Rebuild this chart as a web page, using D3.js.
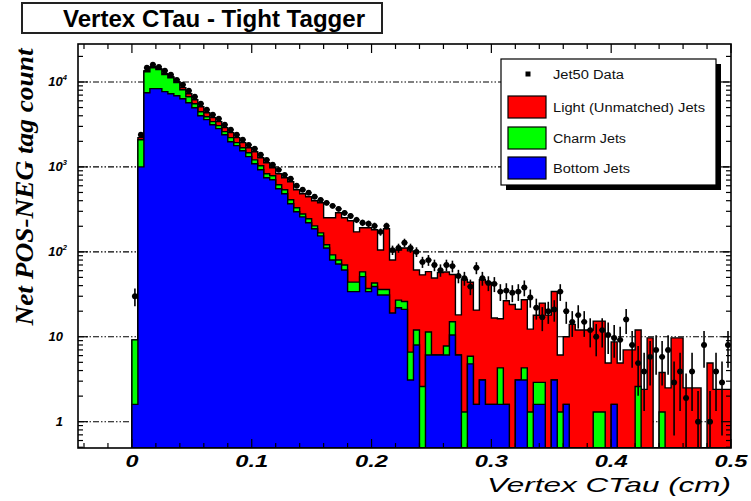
<!DOCTYPE html>
<html>
<head>
<meta charset="utf-8">
<script src="https://cdn.jsdelivr.net/npm/d3@7"></script>
<style>
    body { margin: 0; background: #fff; }
    svg { display: block; }
</style>
</head>
<body>
<svg width="751" height="501"></svg>
<script>
// histogram bins: 0.005 cm wide, starting at 0
var binLow = 0, binWidth = 0.005;

// bottom jets (blue), one value per bin
var bottomJets = [
    1.6, 1000, 7480, 8340, 8340, 7690, 7280, 6890, 6350, 5700,
    4980, 4010, 3600, 3140, 2820, 2390, 1980, 1780, 1550, 1320,
    1090, 925, 745, 705, 553, 483, 368, 296, 258, 220,
    187, 154, 111, 80, 72, 61, 34, 34, 51, 34,
    39, 31, 31, 19, 22, 21, 3.1, 8, 0, 6.1,
    6.1, 6.1, 6.1, 10.5, 6.1, 0, 4.8, 1.6, 3.1, 1.6,
    1.6, 1.6, 1.6, 0, 3.1, 3.1, 0, 1.6, 1.6, 0,
    3.1, 0, 1.6, 0, 0, 0, 0, 0, 0, 0,
    1.6, 0, 0, 0, 0, 0, 0, 0, 0, 0,
    0, 0, 0, 0, 0, 0, 0, 0, 0, 0
];

// charm jets (green)
var charmJets = [
    7.6, 1090, 5730, 6390, 5620, 4500, 3940, 2930, 1760, 1010,
    570, 460, 300, 270, 240, 210, 230, 150, 130, 150,
    120, 105, 85, 82, 63, 55, 42, 34, 21, 25,
    15, 13, 10, 12, 8, 9, 10, 10, 7, 3,
    4, 5, 5, 0, 5, 5, 3.5, 4, 2.6, 5.3,
    0, 0, 1.7, 4.5, 0, 1.3, 1.1, 0, 0, 0,
    0, 2.7, 0, 0, 0, 1.2, 1.3, 1.3, 1.3, 0,
    0, 1.3, 0, 0, 0, 0, 0, 1.3, 1.3, 0,
    0, 0, 0, 0, 2.6, 0, 0, 0, 1.3, 0,
    0, 0, 0, 0, 0, 0, 0, 0, 0, 0
];

// light (unmatched) jets (red)
var lightJets = [
    0, 120, 380, 410, 390, 340, 310, 250, 460, 570,
    630, 640, 450, 390, 350, 300, 320, 280, 250, 210,
    300, 250, 290, 190, 214, 207, 258, 208, 204, 200,
    197, 211, 131, 160, 208, 182, 188, 128, 134, 155,
    139, 69, 151, 61, 78, 85, 96, 49, 51, 47,
    43, 51, 50, 39, 12, 46, 38, 19, 44, 42,
    15, 12, 25, 24, 18, 23, 11, 15, 22, 18,
    31, 4.8, 8.4, 14, 12, 12, 12, 14, 14, 4.9,
    7.1, 4.9, 7, 7, 9.4, 2.4, 9.7, 0, 2.5, 2.5,
    9.7, 9.7, 2.5, 2.5, 2.5, 0, 4.9, 2.4, 2.4, 2.4
];

// Jet50 data points
var jet50Data = [
    30, 2390, 14700, 16000, 15100, 13600, 12200, 10600, 9300, 7900,
    6700, 5550, 4720, 4120, 3700, 3140, 2740, 2390, 2090, 1820,
    1640, 1390, 1210, 1060, 925, 807, 725, 600, 538, 496,
    445, 410, 378, 348, 321, 288, 265, 238, 220, 214,
    202, 172, 202, 105, 111, 128, 111, 100, 76, 80,
    70, 61, 70, 68, 52, 49, 39, 65, 49, 43,
    42, 34, 35, 33, 34, 38, 29, 22, 17, 20,
    21, 34, 20, 15, 18, 15, 12, 10, 12, 10.5,
    9.7, 9.2, 16, 8, 4.9, 3.9, 5.8, 7, 5.8, 7,
    2.9, 3.9, 1.9, 3.9, 1, 8, 1, 3.9, 2.9, 8
];

var xTickValues = [0, 0.1, 0.2, 0.3, 0.4, 0.5];
var xTickLabels = ["0", "0.1", "0.2", "0.3", "0.4", "0.5"];
var yDecades = [1, 10, 100, 1000, 10000];
var yDecadeExp = ["", "", "2", "3", "4"];
var yDecadeBase = ["1", "10", "10", "10", "10"];

var legendNames = ["Jet50 Data", "Light (Unmatched) Jets", "Charm Jets", "Bottom Jets"];
var legendColors = [null, "#ff0000", "#00ff00", "#0000ff"];

var svg = d3.select("svg");
var frame = { left: 78, right: 731, top: 44, bottom: 448 };
var yMin = 0.49;

var x = d3.scaleLinear().domain([-0.045, 0.5]).range([frame.left, frame.right]);
var y = d3.scaleLog().domain([yMin, 28000]).range([frame.bottom, frame.top]);

function y_clamped(v) {
    return v > 0 ? y(Math.max(v, yMin)) : frame.bottom;
}

svg.append("defs").append("clipPath").attr("id", "plot-clip")
    .append("rect")
    .attr("x", frame.left).attr("y", frame.top)
    .attr("width", frame.right - frame.left).attr("height", frame.bottom - frame.top);

// grid lines behind everything
svg.append("g").selectAll("line")
    .data(yDecades)
    .enter().append("line")
    .attr("x1", frame.left).attr("x2", frame.right)
    .attr("y1", function (d) { return y(d); })
    .attr("y2", function (d) { return y(d); })
    .attr("stroke", "#000")
    .attr("stroke-width", 1.1)
    .attr("stroke-dasharray", "6,2,1.5,2,1.5,2");

// stacked totals
var stackBlue = bottomJets.slice();
var stackGreen = bottomJets.map(function (v, i) { return v + charmJets[i]; });
var stackRed = stackGreen.map(function (v, i) { return v + lightJets[i]; });

function hist_path(vals) {
    var pts = vals.map(function (v, i) { return { x: binLow + i * binWidth, v: v }; });
    pts.push({ x: binLow + vals.length * binWidth, v: vals[vals.length - 1] });
    return d3.area()
        .x(function (d) { return x(d.x); })
        .y0(frame.bottom)
        .y1(function (d) { return y_clamped(d.v); })
        .curve(d3.curveStepAfter)(pts);
}

var plot = svg.append("g").attr("clip-path", "url(#plot-clip)");

[[stackRed, "#ff0000"], [stackGreen, "#00ff00"], [stackBlue, "#0000ff"]].forEach(function (h) {
    plot.append("path")
        .attr("d", hist_path(h[0]))
        .attr("fill", h[1])
        .attr("stroke", "#000")
        .attr("stroke-width", 1.4)
        .attr("stroke-linejoin", "miter");
});

// data points with error bars (poisson-like, as ROOT draws them)
var pts = plot.append("g");
jet50Data.forEach(function (v, i) {
    if (!(v > 0)) return;
    var lo = binLow + i * binWidth, hi = lo + binWidth, mid = lo + binWidth / 2;
    var err = 1.3 * Math.sqrt(v);
    pts.append("line")
        .attr("x1", x(lo)).attr("x2", x(hi))
        .attr("y1", y(v)).attr("y2", y(v))
        .attr("stroke", "#000").attr("stroke-width", 1.6);
    pts.append("line")
        .attr("x1", x(mid)).attr("x2", x(mid))
        .attr("y1", y(v + err)).attr("y2", y_clamped(v - err))
        .attr("stroke", "#000").attr("stroke-width", 1.6);
    pts.append("circle")
        .attr("cx", x(mid)).attr("cy", y(v)).attr("r", 2.9)
        .attr("fill", "#000");
});

// frame
svg.append("rect")
    .attr("x", frame.left).attr("y", frame.top)
    .attr("width", frame.right - frame.left).attr("height", frame.bottom - frame.top)
    .attr("fill", "none").attr("stroke", "#000").attr("stroke-width", 1.6);

// x ticks, top and bottom, pointing in
var ticks = svg.append("g").attr("stroke", "#000").attr("stroke-width", 1.2);
d3.range(-0.04, 0.5001, 0.02).forEach(function (t) {
    var major = Math.abs(Math.round(t * 10) - t * 10) < 1e-6;
    var len = major ? 9 : 5;
    ticks.append("line").attr("x1", x(t)).attr("x2", x(t))
        .attr("y1", frame.top).attr("y2", frame.top + len);
    ticks.append("line").attr("x1", x(t)).attr("x2", x(t))
        .attr("y1", frame.bottom).attr("y2", frame.bottom - len);
});

// y ticks, left and right
var yTickVals = [];
[0.1, 1, 10, 100, 1000, 10000].forEach(function (d) {
    for (var k = 1; k <= 9; k++) {
        var v = k * d;
        if (v >= yMin && v <= 28000) yTickVals.push({ v: v, major: k == 1 });
    }
});
yTickVals.forEach(function (t) {
    var len = t.major ? 10 : 5;
    ticks.append("line").attr("x1", frame.left).attr("x2", frame.left + len)
        .attr("y1", y(t.v)).attr("y2", y(t.v));
    ticks.append("line").attr("x1", frame.right).attr("x2", frame.right - len)
        .attr("y1", y(t.v)).attr("y2", y(t.v));
});

// x tick labels
svg.append("g").selectAll("text")
    .data(xTickValues)
    .enter().append("text")
    .attr("x", function (d) { return x(d); })
    .attr("y", 467)
    .attr("text-anchor", "middle")
    .attr("font-family", "Liberation Sans, Arial, sans-serif")
    .attr("font-style", "italic")
    .attr("font-weight", "bold")
    .attr("font-size", 16)
    .attr("textLength", function (d, i) { return i == 0 ? 13 : 33; })
    .attr("lengthAdjust", "spacingAndGlyphs")
    .text(function (d, i) { return xTickLabels[i]; });

// y tick labels
var yl = svg.append("g")
    .attr("font-family", "Liberation Sans, Arial, sans-serif")
    .attr("font-style", "italic")
    .attr("font-weight", "bold")
    .attr("font-size", 13);
yDecades.forEach(function (d, i) {
    var t = yl.append("text")
        .attr("x", yDecadeExp[i] ? 67 : 63)
        .attr("y", y(d) + 4)
        .attr("text-anchor", "end")
        .text(yDecadeBase[i]);
    if (yDecadeExp[i]) {
        t.append("tspan").attr("dy", -6).attr("font-size", 7.5).text(yDecadeExp[i]);
    }
});

// axis titles
svg.append("text")
    .attr("x", 487).attr("y", 492)
    .attr("font-family", "Liberation Sans, Arial, sans-serif")
    .attr("font-style", "italic")
    .attr("font-size", 21)
    .attr("textLength", 244)
    .attr("lengthAdjust", "spacingAndGlyphs")
    .text("Vertex CTau (cm)");

svg.append("text")
    .attr("transform", "translate(33,187) rotate(-90)")
    .attr("text-anchor", "middle")
    .attr("font-family", "Liberation Serif, Times New Roman, serif")
    .attr("font-style", "italic")
    .attr("font-weight", "bold")
    .attr("font-size", 25)
    .attr("textLength", 277)
    .attr("lengthAdjust", "spacingAndGlyphs")
    .text("Net POS-NEG tag count");

// title box
svg.append("rect")
    .attr("x", 22).attr("y", 3).attr("width", 360).attr("height", 30)
    .attr("fill", "#fff").attr("stroke", "#222").attr("stroke-width", 2);
svg.append("text")
    .attr("x", 63).attr("y", 27)
    .attr("font-family", "Liberation Sans, Arial, sans-serif")
    .attr("font-weight", "bold")
    .attr("font-size", 23)
    .attr("textLength", 302)
    .attr("lengthAdjust", "spacingAndGlyphs")
    .text("Vertex CTau - Tight Tagger");

// legend
var lg = { x: 501, y: 59, w: 215, h: 126 };
svg.append("rect")
    .attr("x", lg.x + 5).attr("y", lg.y + 5).attr("width", lg.w).attr("height", lg.h)
    .attr("fill", "#000");
svg.append("rect")
    .attr("x", lg.x).attr("y", lg.y).attr("width", lg.w).attr("height", lg.h)
    .attr("fill", "#fff").attr("stroke", "#000").attr("stroke-width", 1.2);

var legendRowY = [74, 107, 138, 168];
var legendTextLen = [71, 152, 73, 77];
legendNames.forEach(function (name, i) {
    if (legendColors[i]) {
        svg.append("rect")
            .attr("x", lg.x + 7).attr("y", legendRowY[i] - 11)
            .attr("width", 38).attr("height", 22)
            .attr("fill", legendColors[i]).attr("stroke", "#000").attr("stroke-width", 1.2);
    } else {
        svg.append("rect")
            .attr("x", 525.5).attr("y", legendRowY[i] - 2.5)
            .attr("width", 5).attr("height", 5).attr("fill", "#000");
    }
    svg.append("text")
        .attr("x", 553).attr("y", legendRowY[i] + 4.5)
        .attr("font-family", "Liberation Sans, Arial, sans-serif")
        .attr("font-size", 12.5)
        .attr("fill", "#111")
        .attr("textLength", legendTextLen[i])
        .attr("lengthAdjust", "spacingAndGlyphs")
        .text(name);
});
</script>
</body>
</html>
